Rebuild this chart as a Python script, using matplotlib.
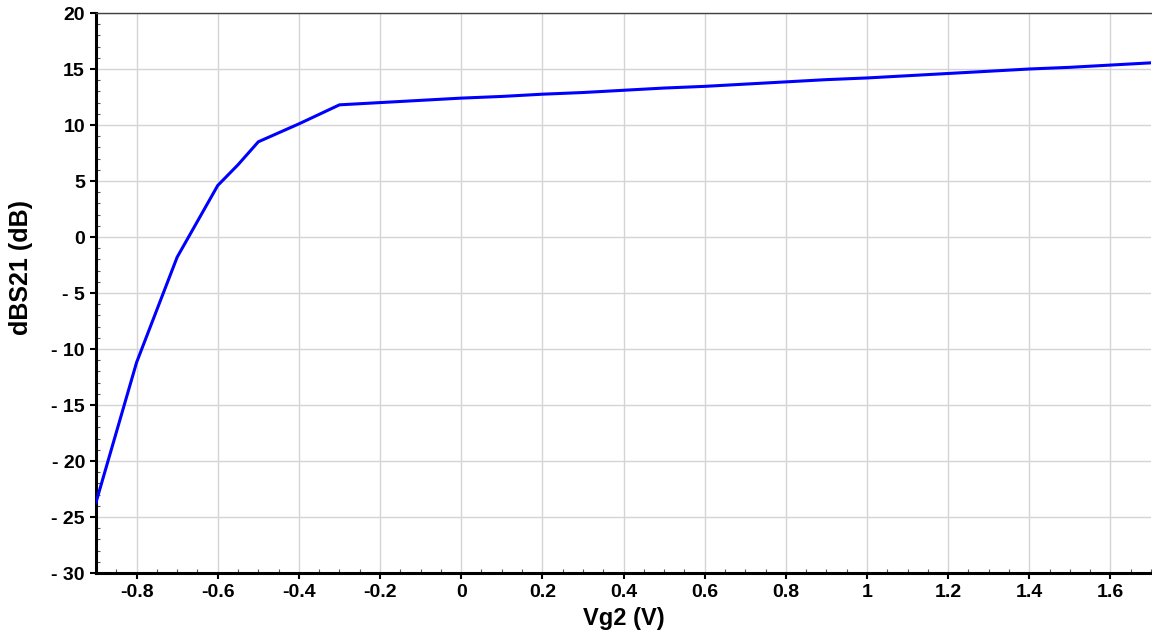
import matplotlib.pyplot as plt
import numpy as np
from matplotlib.ticker import MultipleLocator, FuncFormatter

plt.rcParams['font.family'] = ['Liberation Sans', 'DejaVu Sans']
plt.rcParams['font.weight'] = 'bold'

# Vg2 sweep (V) and measured dBS21 (dB)
vg2 = [-0.9, -0.8, -0.7, -0.6, -0.55, -0.5, -0.4, -0.3, -0.2, -0.1, 0.0,
       0.1, 0.2, 0.3, 0.4, 0.5, 0.6, 0.7, 0.8, 0.9, 1.0,
       1.1, 1.2, 1.3, 1.4, 1.5, 1.6, 1.7]
dbs21 = [-23.7, -11.2, -1.8, 4.6, 6.45, 8.5, 10.1, 11.8, 12.0, 12.2, 12.4,
         12.55, 12.75, 12.9, 13.1, 13.3, 13.45, 13.65, 13.85, 14.05, 14.2,
         14.4, 14.6, 14.8, 15.0, 15.15, 15.35, 15.55]

xticks = [-0.8, -0.6, -0.4, -0.2, 0, 0.2, 0.4, 0.6, 0.8, 1, 1.2, 1.4, 1.6]
xticklabels = ['-0.8', '-0.6', '-0.4', '-0.2', '0', '0.2', '0.4', '0.6',
               '0.8', '1', '1.2', '1.4', '1.6']

fig = plt.figure(figsize=(11.52, 6.33), dpi=100)
ax = fig.add_axes([96/1152, 1-573/633, 1055/1152, 560/633])

ax.plot(vg2, dbs21, color='#0000ff', lw=2.2, zorder=3)

ax.set_xlim(-0.9, 1.7)
ax.set_ylim(-30, 20)
ax.set_xticks(xticks)
ax.set_xticklabels(xticklabels)
ax.set_yticks(np.arange(-30, 21, 5))
ax.yaxis.set_major_formatter(FuncFormatter(
    lambda v, p: ('- %d' % abs(v)) if v < 0 else '%d' % v))
ax.xaxis.set_minor_locator(MultipleLocator(0.05))
ax.yaxis.set_minor_locator(MultipleLocator(1))

ax.grid(True, which='major', color='#d4d4d4', lw=1)
ax.tick_params(which='major', direction='out', length=4, width=1.5,
               labelsize=14, pad=4)
ax.tick_params(which='minor', direction='in', length=3, width=0.8,
               color='#555555')
for t in ax.get_xticklabels() + ax.get_yticklabels():
    t.set_fontweight('bold')

ax.spines['left'].set_linewidth(2.2)
ax.spines['bottom'].set_linewidth(2.2)
ax.spines['top'].set_linewidth(1)
ax.spines['top'].set_color('#404040')
ax.spines['right'].set_visible(False)

ax.set_xlabel('Vg2 (V)', fontsize=17, fontweight='bold')
ax.set_ylabel('dBS21 (dB)', fontsize=18, fontweight='bold')
ax.xaxis.set_label_coords(0.5, -0.061)
ax.yaxis.set_label_coords(-0.06, 0.545)

fig.savefig('out.png', dpi=100)
